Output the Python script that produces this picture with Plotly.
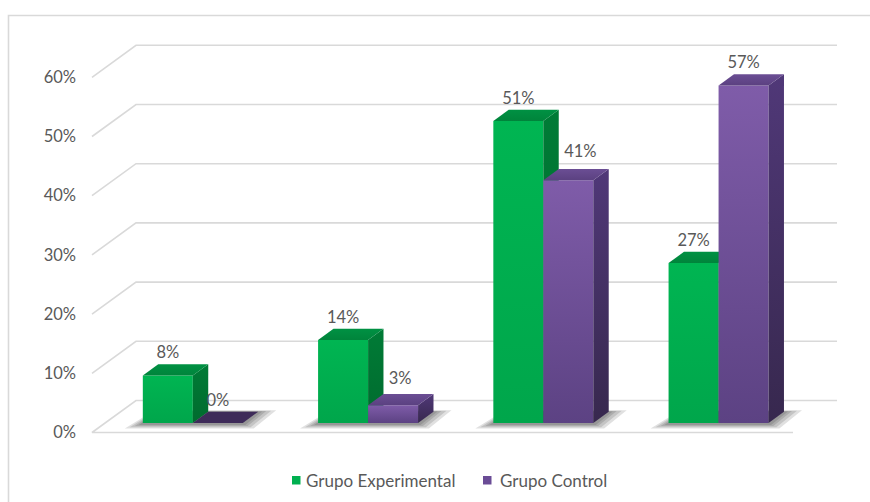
import plotly.graph_objects as go

# ---- data -------------------------------------------------------------
series_names = ["Grupo Experimental", "Grupo Control"]
experimental = [8, 14, 51, 27]
control = [0, 3, 41, 57]
y_ticks = [0, 10, 20, 30, 40, 50, 60]

# ---- page / projection geometry (pixels) ------------------------------
FIG_W, FIG_H = 870, 502
MARGIN_L = 77
FLOOR_LEFT_PX = 92          # front-left corner of the floor
Y0_PX = 432.5               # 0 % on the front plane
PX_CAT = 175.25             # pixels per category slot
PX_PCT = 5.92               # pixels per percentage point

DEPTH_DX = 44 / PX_CAT      # oblique depth of the floor/walls
DEPTH_DY = 32 / PX_PCT
BAR_Z0 = 0.30               # bar front plane (fraction of depth)
BAR_DZ = 0.35               # bar depth (fraction of depth)
BAR_W = 50 / PX_CAT         # front width of one bar

OX, OY = BAR_Z0 * DEPTH_DX, BAR_Z0 * DEPTH_DY
BDX, BDY = BAR_DZ * DEPTH_DX, BAR_DZ * DEPTH_DY

x_range = [-0.5 - (FLOOR_LEFT_PX - MARGIN_L) / PX_CAT,
           -0.5 + (FIG_W - FLOOR_LEFT_PX) / PX_CAT]
y_range = [-(FIG_H - Y0_PX) / PX_PCT, Y0_PX / PX_PCT]

GRID = "#d9d9d9"
TEXT = "#595959"
FONT = "Lato"

palette = {
    "Grupo Experimental": dict(
        front=[[0, "#00a64b"], [1, "#00b552"]],
        side=[[0, "#006b2e"], [1, "#007b36"]],
        top=[[0, "#00843b"], [1, "#009143"]],
        flat="#3e2b59", swatch="#00b050"),
    "Grupo Control": dict(
        front=[[0, "#5c4283"], [1, "#7f5ca9"]],
        side=[[0, "#37284e"], [1, "#503878"]],
        top=[[0, "#5b4181"], [1, "#6b4e94"]],
        flat="#3e2b59", swatch="#6a4c96"),
}

fig = go.Figure()


def poly(xs, ys, colorscale=None, color=None):
    kw = dict(x=list(xs) + [xs[0]], y=list(ys) + [ys[0]], mode="lines",
              fill="toself", line=dict(width=0), hoverinfo="skip",
              showlegend=False)
    if colorscale is not None:
        kw["fillgradient"] = dict(type="vertical", colorscale=colorscale)
    else:
        kw["fillcolor"] = color
    fig.add_trace(go.Scatter(**kw))


# ---- gridlines: left wall diagonal + back wall line --------------------
for v in y_ticks:
    gx = [-0.5, -0.5 + DEPTH_DX, 3.5 + DEPTH_DX]
    gy = [v, v + DEPTH_DY, v + DEPTH_DY]
    if v == 0:
        gx = [3.5] + gx
        gy = [0] + gy
    fig.add_trace(go.Scatter(x=gx, y=gy, mode="lines",
                             line=dict(color=GRID, width=1.6),
                             hoverinfo="skip", showlegend=False))

# ---- soft floor shadows under each cluster -----------------------------
for i in range(len(experimental)):
    xl, xr = i - BAR_W + OX, i + BAR_W + OX
    for e in [18, 13, 8, 4]:
        ex, ey = e / PX_CAT, 0.25 * e / PX_PCT
        xs = [xl - ex, xr + ex * 0.6, xr + BDX + ex, xl + BDX - ex * 0.2]
        ys = [OY - ey - 0.2, OY - ey - 0.2, OY + BDY + ey * 0.3, OY + BDY + ey * 0.3]
        poly(xs, ys, color="rgba(0,0,0,0.12)")

# ---- 3-D columns --------------------------------------------------------
label_nudge = {(1, 2): (12, 6), (1, 1): (7, 4)}   # (series, category): (dx px, dy px)
lab_x, lab_y, lab_t = [], [], []
for i in range(len(experimental)):
    for s, (name, values) in enumerate(zip(series_names, [experimental, control])):
        v = values[i]
        c = palette[name]
        xl = i - BAR_W + OX + s * BAR_W
        xr = xl + BAR_W
        b = OY
        t = b + v
        if v > 0:
            poly([xl, xr, xr, xl], [b, b, t, t], colorscale=c["front"])
            poly([xr, xr + BDX, xr + BDX, xr], [b, b + BDY, t + BDY, t],
                 colorscale=c["side"])
            poly([xl, xr, xr + BDX, xl + BDX], [t, t, t + BDY, t + BDY],
                 colorscale=c["top"])
        else:
            poly([xl, xr, xr + BDX, xl + BDX], [t, t, t + BDY, t + BDY],
                 color=c["flat"])
        ndx, ndy = label_nudge.get((s, i), (0, 0))
        lab_x.append((xl + xr) / 2 + ndx / PX_CAT)
        lab_y.append(t + BDY + (10 + ndy) / PX_PCT)
        lab_t.append(f"{v}%")

fig.add_trace(go.Scatter(x=lab_x, y=lab_y, text=lab_t, mode="text",
                         textfont=dict(family=FONT, size=16.5, color=TEXT),
                         cliponaxis=False, hoverinfo="skip", showlegend=False))


# ---- frame and legend (paper coordinates) ------------------------------
def pxx(px):
    return (px - MARGIN_L) / (FIG_W - MARGIN_L)


def pyy(py):
    return 1 - py / FIG_H


shapes = [dict(type="rect", xref="paper", yref="paper",
               x0=pxx(8.5), x1=pxx(FIG_W + 10), y0=pyy(FIG_H + 10), y1=pyy(15.5),
               line=dict(color=GRID, width=1.6), fillcolor="rgba(0,0,0,0)",
               layer="below")]
annotations = []
legend_pos = [(292, 304), (483, 498)]
for name, (sx, tx) in zip(series_names, legend_pos):
    shapes.append(dict(type="rect", xref="paper", yref="paper",
                       x0=pxx(sx), x1=pxx(sx + 8.5), y0=pyy(484.5), y1=pyy(476),
                       line=dict(width=0), fillcolor=palette[name]["swatch"]))
    annotations.append(dict(xref="paper", yref="paper", x=pxx(tx), y=pyy(480),
                            text=name, showarrow=False, xanchor="left",
                            yanchor="middle",
                            font=dict(family=FONT, size=17, color=TEXT)))

fig.update_layout(
    width=FIG_W, height=FIG_H, autosize=False,
    margin=dict(l=MARGIN_L, r=0, t=0, b=0),
    paper_bgcolor="white", plot_bgcolor="white",
    showlegend=False,
    xaxis=dict(range=x_range, visible=False, fixedrange=True),
    yaxis=dict(range=y_range, tickvals=y_ticks,
               ticktext=[f"{v}%" for v in y_ticks],
               showgrid=False, zeroline=False, showline=False, ticks="",
               tickfont=dict(family=FONT, size=16.5, color=TEXT),
               fixedrange=True),
    shapes=shapes, annotations=annotations,
)

fig.write_html("out.html")
